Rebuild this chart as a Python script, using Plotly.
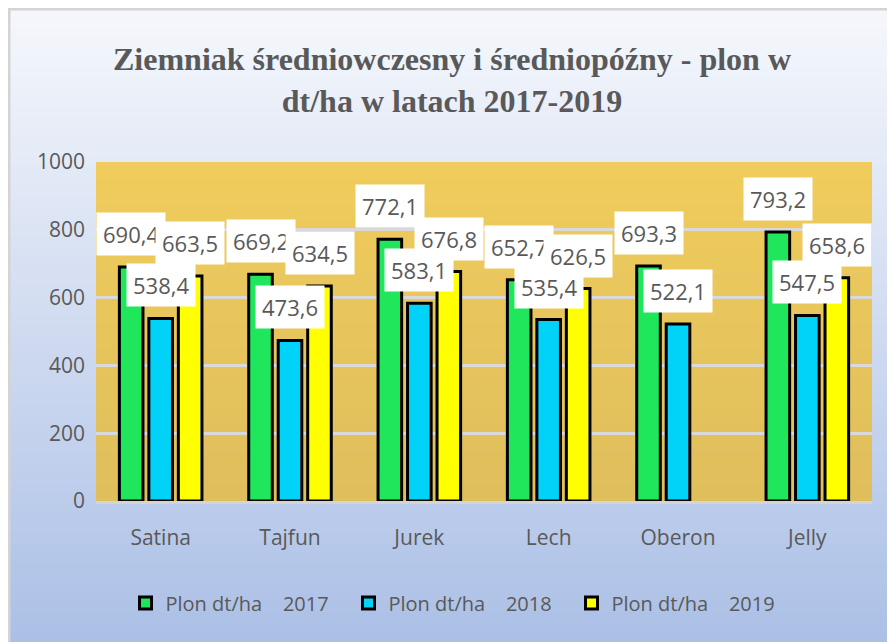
import plotly.graph_objects as go

categories = ["Satina", "Tajfun", "Jurek", "Lech", "Oberon", "Jelly"]
series_names = ["Plon dt/ha\u00a0\u00a0\u00a0\u00a02017", "Plon dt/ha\u00a0\u00a0\u00a0\u00a02018", "Plon dt/ha\u00a0\u00a0\u00a0\u00a02019"]
y2017 = [690.4, 669.2, 772.1, 652.7, 693.3, 793.2]
y2018 = [538.4, 473.6, 583.1, 535.4, 522.1, 547.5]
y2019 = [663.5, 634.5, 676.8, 626.5, None, 658.6]
series_values = [y2017, y2018, y2019]
series_colors = ["#1FE65A", "#00D2F8", "#FFFF00"]

OFF = 8  # page body margin
SW, SH = 895, 642  # screen size
W, H = SW - OFF, SH - OFF  # figure size
# plot area in screen pixels
L, R, T, B = 96, 872, 162, 501

def px(xs):
    return (xs - L) / (R - L)

def py(ys):
    return (B - ys) / (B - T)

def lerp(c1, c2, t):
    return "rgb(%d,%d,%d)" % tuple(round(a + (b - a) * t) for a, b in zip(c1, c2))

shapes = []
# outer gradient background
n = 64
top_c, bot_c = (245, 247, 252), (172, 192, 230)
for i in range(n):
    y0 = OFF + i * H / n
    y1 = OFF + (i + 1) * H / n + 1
    shapes.append(dict(type="rect", xref="paper", yref="paper",
                       x0=px(OFF), x1=px(SW), y0=py(y1), y1=py(y0),
                       fillcolor=lerp(top_c, bot_c, i / (n - 1)), line_width=0, layer="below"))
# border
shapes.append(dict(type="rect", xref="paper", yref="paper",
                   x0=px(OFF + 1), x1=px(SW + 5), y0=py(SH + 5), y1=py(OFF + 1),
                   fillcolor="rgba(0,0,0,0)", line=dict(color="#D4D4D4", width=3), layer="below"))
# gold plot-area gradient
m = 40
g_top, g_bot = (240, 204, 92), (223, 190, 92)
for i in range(m):
    shapes.append(dict(type="rect", xref="paper", yref="paper",
                       x0=0, x1=1, y0=1 - (i + 1) / m - 0.002, y1=1 - i / m,
                       fillcolor=lerp(g_top, g_bot, i / (m - 1)), line_width=0, layer="below"))

fig = go.Figure()
xs = list(range(len(categories)))
for name, vals, col in zip(series_names, series_values, series_colors):
    fig.add_trace(go.Bar(x=xs, y=vals, name=name,
                         marker=dict(color=col, line=dict(color="black", width=3))))

annotations = []
offsets = [-29.5, 0, 29.5]
for vals, off in zip(series_values, offsets):
    for xi, v in zip(xs, vals):
        if v is None:
            continue
        annotations.append(dict(x=xi, y=v, xref="x", yref="y",
                                text=f"{v:.1f}".replace(".", ","),
                                showarrow=False, xshift=off, yshift=33,
                                bgcolor="white", borderpad=6,
                                font=dict(family="Open Sans", size=22, color="#595959")))

fig.update_layout(
    width=W, height=H,
    margin=dict(l=L - OFF, r=SW - R, t=T - OFF, b=SH - B),
    paper_bgcolor="#DCE4F2",
    plot_bgcolor="rgba(0,0,0,0)",
    barmode="group", bargap=0.316, bargroupgap=0.2,
    shapes=shapes, annotations=annotations,
    title=dict(text="Ziemniak średniowczesny i średniopóźny - plon w<br>dt/ha w latach 2017-2019",
               x=(452 - OFF) / W, xanchor="center", xref="container",
               y=1 - (70 - OFF) / H, yanchor="middle", yref="container",
               font=dict(family="Liberation Serif", size=32, color="#595959", weight="bold")),
    xaxis=dict(tickvals=xs, ticktext=categories, range=[-0.5, len(categories) - 0.5],
               showgrid=False, zeroline=False, showline=True, linecolor="#D4D4D4", linewidth=3,
               ticks="", ticklabelstandoff=16,
               tickfont=dict(family="Open Sans", size=21, color="#595959")),
    yaxis=dict(range=[0, 1000], dtick=200, showgrid=True, gridcolor="#D9D9D9", gridwidth=3,
               zeroline=False, showline=False, ticks="", ticklabelstandoff=10,
               tickfont=dict(family="Open Sans", size=21, color="#595959")),
    legend=dict(orientation="h", x=px(460), xanchor="center", y=py(603), yanchor="middle",
                bgcolor="rgba(0,0,0,0)", entrywidth=178, entrywidthmode="pixels",
                font=dict(family="Open Sans", size=20, color="#595959"), itemwidth=30),
    showlegend=True,
)

fig.write_html("out.html")
